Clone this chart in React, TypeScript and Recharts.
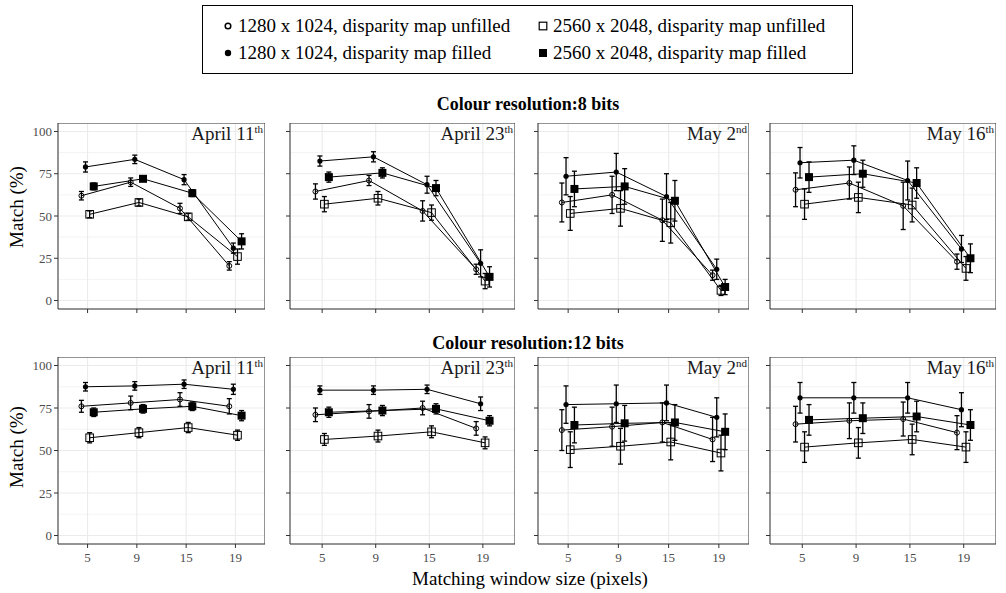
import React from 'react';
import { ScatterChart, Scatter, XAxis, YAxis, CartesianGrid, ErrorBar, ReferenceArea } from 'recharts';

const FONT = '"Liberation Serif", "Times New Roman", serif';

// x categories and facet labels
const windowSizes = ['5', '9', '15', '19'];
const dates = ['April 11', 'April 23', 'May 2', 'May 16'];
const dateSuffix = ['th', 'th', 'nd', 'th'];
const rowTitles = ['Colour resolution:8 bits', 'Colour resolution:12 bits'];
const legendLabels = [
  '1280 x 1024, disparity map unfilled',
  '1280 x 1024, disparity map filled',
  '2560 x 2048, disparity map unfilled',
  '2560 x 2048, disparity map filled',
];

// values: one row per date, one column per window size
const low8Unfilled = [
  [62, 70, 54.5, 20.5],
  [64.5, 71, 53, 18.5],
  [58, 62.5, 47.5, 15],
  [65.5, 69.5, 56, 23],
];
const low8UnfilledErr = [
  [2.5, 2.5, 3, 2.5],
  [4.5, 3, 6, 3],
  [11.5, 11, 12.5, 3],
  [10, 9.5, 14, 4.5],
];
const low8Filled = [
  [79, 83.5, 71.5, 31],
  [82.5, 85, 68.5, 22],
  [73.5, 76, 61.5, 18.5],
  [81.5, 83, 71, 30.5],
];
const low8FilledErr = [
  [3, 2.5, 3, 3],
  [3, 3, 5, 8],
  [11, 11, 13.5, 6],
  [9, 8.5, 11.5, 8],
];
const high8Unfilled = [
  [51, 58, 49.5, 26],
  [57, 60.5, 52, 11.5],
  [51.5, 54.5, 46, 6],
  [57, 61, 56.5, 19],
];
const high8UnfilledErr = [
  [2, 2, 2, 4.5],
  [4.5, 4, 4.5, 4.5],
  [10, 10.5, 12, 3],
  [9, 9, 10, 7],
];
const high8Filled = [
  [67.5, 72, 63.5, 35],
  [73, 75.5, 66.5, 14],
  [66, 67.5, 59, 8],
  [73, 75, 69.5, 25],
];
const high8FilledErr = [
  [2, 1.5, 2, 4.5],
  [3, 3, 4.5, 6],
  [10.5, 10.5, 12, 4.5],
  [9, 8, 9, 8.5],
];

const low12Unfilled = [
  [76, 78, 80, 76],
  [71, 73, 75, 63],
  [62, 64, 66.5, 56.5],
  [65.5, 67.5, 68.5, 60.5],
];
const low12UnfilledErr = [
  [3.5, 4, 4, 4.5],
  [4, 4, 4, 4],
  [12, 11.5, 11.5, 13],
  [10.5, 10.5, 10, 10],
];
const low12Filled = [
  [87.5, 88, 89, 86],
  [85.5, 85.5, 86, 77.5],
  [77, 77.5, 78, 69.5],
  [81, 81, 81, 74],
];
const low12FilledErr = [
  [2.5, 2.5, 2.5, 3],
  [2.5, 2.5, 2.5, 4],
  [11, 11, 10.5, 11.5],
  [9, 9, 9, 10],
];
const high12Unfilled = [
  [57.5, 60.5, 63.5, 59],
  [56.5, 58.5, 61, 54.5],
  [50.5, 52.5, 55, 48.5],
  [52, 54.5, 56.5, 52],
];
const high12UnfilledErr = [
  [3, 3, 3, 3],
  [3.5, 3.5, 3.5, 3.5],
  [10.5, 10.5, 10.5, 10.5],
  [9, 9, 9, 9],
];
const high12Filled = [
  [72.5, 74.5, 76, 70.5],
  [72.5, 73.5, 74.5, 67.5],
  [65, 66, 66.5, 61],
  [68, 69, 70, 65],
];
const high12FilledErr = [
  [2.5, 2.5, 2.5, 3],
  [3, 3, 3, 3],
  [10.5, 10.5, 10.5, 10.5],
  [9, 9, 9, 9],
];

const rows = [
  [
    [low8Unfilled, low8UnfilledErr],
    [low8Filled, low8FilledErr],
    [high8Unfilled, high8UnfilledErr],
    [high8Filled, high8FilledErr],
  ],
  [
    [low12Unfilled, low12UnfilledErr],
    [low12Filled, low12FilledErr],
    [high12Unfilled, high12UnfilledErr],
    [high12Filled, high12FilledErr],
  ],
];

// layout
const dodge = [-0.125, -0.042, 0.042, 0.125];
const panelLefts = [58, 290, 538, 770];
const panelWidths = [207, 225, 211, 226];
const rowTops = [123, 357];
const rowHeights = [186, 187];
const Y_AXIS_W = 40;
const X_AXIS_H = 30;

function Marker({ kind, cx, cy }: { kind: number; cx: number; cy: number }) {
  if (cx == null || cy == null) return null;
  if (kind === 0) return <circle cx={cx} cy={cy} r={2.5} fill="none" stroke="#000" strokeWidth={1} />;
  if (kind === 1) return <circle cx={cx} cy={cy} r={2.6} fill="#000" />;
  if (kind === 2) return <rect x={cx - 3.8} y={cy - 3.8} width={7.6} height={7.6} fill="none" stroke="#000" strokeWidth={1} />;
  return <rect x={cx - 4} y={cy - 4} width={8} height={8} fill="#000" />;
}

function Panel({ row, col }: { row: number; col: number }) {
  const w = panelWidths[col] + Y_AXIS_W;
  const h = rowHeights[row] + X_AXIS_H;
  const tickStyle = { fontSize: 13, fill: '#4d4d4d', fontFamily: FONT };
  return (
    <div style={{ position: 'absolute', left: panelLefts[col] - Y_AXIS_W, top: rowTops[row] }}>
      <ScatterChart width={w} height={h} margin={{ top: 0, right: 0, bottom: 0, left: 0 }}>
        <CartesianGrid
          vertical={false}
          horizontalValues={[12.5, 37.5, 62.5, 87.5]}
          stroke="#ededed"
          strokeWidth={0.6}
        />
        <CartesianGrid stroke="#ebebeb" strokeWidth={1.1} />
        <XAxis
          type="number"
          dataKey="x"
          domain={[-0.6, 3.6]}
          ticks={[0, 1, 2, 3]}
          allowDataOverflow
          axisLine={false}
          tickSize={4}
          tickMargin={5}
          tickLine={{ stroke: '#333' }}
          height={X_AXIS_H}
          tick={tickStyle}
          tickFormatter={(v: number) => (row === 1 ? windowSizes[v] : '')}
          interval={0}
        />
        <YAxis
          type="number"
          dataKey="y"
          domain={[-5, 105]}
          ticks={[0, 25, 50, 75, 100]}
          allowDataOverflow
          axisLine={false}
          tickSize={4}
          tickLine={{ stroke: '#333' }}
          width={Y_AXIS_W}
          tick={tickStyle}
          tickFormatter={(v: number) => (col === 0 ? String(v) : '')}
          interval={0}
        />
        {rows[row].map(([vals, errs], s) => (
          <Scatter
            key={s}
            data={windowSizes.map((_, i) => ({ x: i + dodge[s], y: vals[col][i], err: errs[col][i] }))}
            line={{ stroke: '#000', strokeWidth: 1 }}
            lineType="joint"
            shape={(p: any) => <Marker kind={s} cx={p.cx} cy={p.cy} />}
            isAnimationActive={false}
          >
            <ErrorBar dataKey="err" direction="y" width={2.5} stroke="#000" strokeWidth={1.3} isAnimationActive={false} />
          </Scatter>
        ))}
        <ReferenceArea x1={-0.6} x2={3.6} y1={-5} y2={105} fill="none" stroke="#333" strokeWidth={1} />
      </ScatterChart>
      <div
        style={{
          position: 'absolute',
          right: 2,
          top: 1,
          fontFamily: FONT,
          fontSize: 19,
          lineHeight: '19px',
          color: '#1a1a1a',
          whiteSpace: 'nowrap',
        }}
      >
        {dates[col]}
        <span style={{ fontSize: 11, position: 'relative', top: -7 }}>{dateSuffix[col]}</span>
      </div>
    </div>
  );
}

function LegendSymbol({ kind }: { kind: number }) {
  return (
    <svg width={12} height={12} style={{ position: 'absolute', left: -6, top: -6 }}>
      {kind === 0 && <circle cx={6} cy={6} r={2.8} fill="none" stroke="#000" strokeWidth={1.5} />}
      {kind === 1 && <circle cx={6} cy={6} r={3.2} fill="#000" />}
      {kind === 2 && <rect x={2.2} y={2.2} width={7.6} height={7.6} fill="none" stroke="#000" strokeWidth={1.2} />}
      {kind === 3 && <rect x={2} y={2} width={8} height={8} fill="#000" />}
    </svg>
  );
}

function Legend() {
  const symX = [227, 227, 542, 542];
  const rowY = [25, 52, 25, 52];
  return (
    <div
      style={{
        position: 'absolute',
        left: 202,
        top: 5,
        width: 651,
        height: 69,
        border: '1.5px solid #000',
        boxSizing: 'border-box',
      }}
    >
      {legendLabels.map((lab, i) => (
        <div key={i} style={{ position: 'absolute', left: symX[i] - 202, top: rowY[i] - 5 }}>
          <LegendSymbol kind={i} />
          <div
            style={{
              position: 'absolute',
              left: 10,
              top: -11,
              fontFamily: FONT,
              fontSize: 19,
              lineHeight: '22px',
              whiteSpace: 'nowrap',
              color: '#000',
            }}
          >
            {lab}
          </div>
        </div>
      ))}
    </div>
  );
}

const centered: React.CSSProperties = {
  position: 'absolute',
  transform: 'translate(-50%, -50%)',
  fontFamily: FONT,
  whiteSpace: 'nowrap',
  color: '#000',
};

export default function App() {
  return (
    <div style={{ position: 'absolute', left: 0, top: 0, width: 1006, height: 593, background: '#fff', overflow: 'hidden' }}>
      <Legend />
      {rowTitles.map((t, r) => (
        <div key={t} style={{ ...centered, left: 528, top: r === 0 ? 104 : 343, fontSize: 18, fontWeight: 'bold' }}>
          {t}
        </div>
      ))}
      {[0, 1].map((r) =>
        [0, 1, 2, 3].map((c) => <Panel key={`${r}-${c}`} row={r} col={c} />)
      )}
      {[207, 447].map((y) => (
        <div key={y} style={{ ...centered, left: 17, top: y, fontSize: 19, transform: 'translate(-50%, -50%) rotate(-90deg)' }}>
          Match (%)
        </div>
      ))}
      <div style={{ ...centered, left: 530, top: 579, fontSize: 19 }}>Matching window size (pixels)</div>
    </div>
  );
}
